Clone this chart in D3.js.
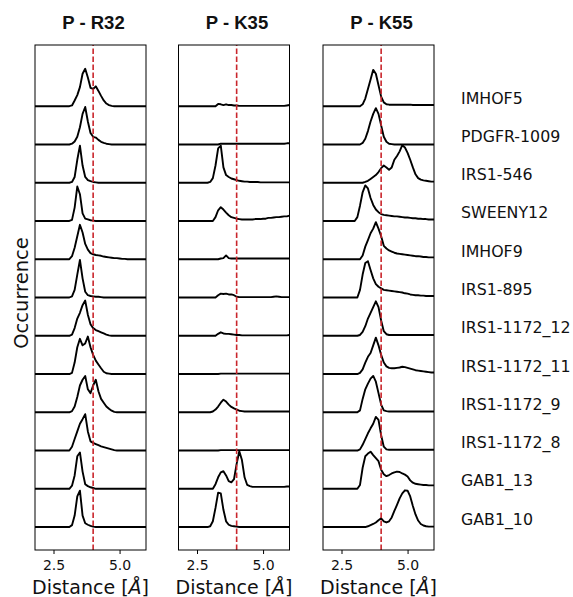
<!DOCTYPE html>
<html>
<head>
<meta charset="utf-8">
<title>Distance distributions</title>
<script src="https://d3js.org/d3.v7.min.js"></script>
<style>
    body { margin: 0; background: #fff; }
    text { font-family: "DejaVu Sans", sans-serif; fill: #111; }
</style>
</head>
<body>
<svg width="573" height="597"></svg>
<script>
    // panel titles and the 12 systems (top to bottom)
    var titles = ["P - R32", "P - K35", "P - K55"];
    var systems = ["IMHOF5", "PDGFR-1009", "IRS1-546", "SWEENY12", "IMHOF9", "IRS1-895",
                   "IRS1-1172_12", "IRS1-1172_11", "IRS1-1172_9", "IRS1-1172_8", "GAB1_13", "GAB1_10"];

    // distance grid (Å) shared by every curve
    var distance = [1.8, 2.9, 3.0, 3.1,
                    3.2, 3.3, 3.4, 3.5, 3.6, 3.7, 3.8, 3.9, 4.0,
                    4.1, 4.2, 4.3, 4.4, 4.5, 4.6, 4.7, 4.8, 4.9, 5.0,
                    5.1, 5.2, 5.3, 5.4, 5.5, 5.6, 5.7, 5.8, 5.9, 6.0];

    // occurrence, 1 = one row of height
    var r32 = [
        [0,0,0,0, .02,.15,.29,.5,.85,.98,.75,.48,.45, .52,.4,.27,.15,.07,.03,.01,0,0,0, 0,0,0,0,0,0,0,0,0,0],
        [0,0,0,0, .02,.08,.2,.45,.8,.98,.6,.3,.2, .18,.12,.07,.04,.02,.01,0,0,0,0, 0,0,0,0,0,0,0,0,0,0],
        [0,0,0,0, .02,.15,.6,.97,.45,.15,.07,.04,.02, .01,0,0,0,0,0,0,0,0,0, 0,0,0,0,0,0,0,0,0,0],
        [0,0,0,0, .03,.35,.9,.7,.2,.06,.04,.02,.01, 0,0,0,0,0,0,0,0,0,0, 0,0,0,0,0,0,0,0,0,0],
        [0,0,0,0, .08,.3,.6,.9,.7,.4,.25,.16,.13, .11,.1,.09,.07,.06,.05,.04,.03,.03,.02, .01,.01,0,0,0,0,0,0,0,0],
        [0,0,0,0, .03,.2,.6,.98,.5,.15,.06,.04,.03, .02,.02,.01,0,0,0,0,0,0,0, 0,0,0,0,0,0,0,0,0,0],
        [0,0,0,0, .03,.2,.45,.6,.8,.92,.55,.3,.2, .15,.12,.09,.06,.03,.01,0,0,0,0, 0,0,0,0,0,0,0,0,0,0],
        [0,0,0,0, .03,.3,.7,.92,.75,.8,.98,.7,.5, .35,.25,.15,.06,.02,.01,0,0,0,0, 0,0,0,0,0,0,0,0,0,0],
        [0,0,0,0, .03,.15,.4,.7,.85,.95,.6,.5,.7, .85,.55,.35,.25,.15,.09,.04,.01,0,0, 0,0,0,0,0,0,0,0,0,0],
        [0,0,0,0, .1,.3,.5,.7,.82,.95,.5,.24,.2, .17,.14,.11,.09,.07,.05,.03,.01,0,0, 0,0,0,0,0,0,0,0,0,0],
        [0,0,0,0, .08,.35,.85,.95,.45,.12,.07,.04,.02, 0,0,0,0,0,0,0,0,0,0, 0,0,0,0,0,0,0,0,0,0],
        [0,0,0,0, .05,.3,.8,.95,.3,.1,.06,.03,.01, 0,0,0,0,0,0,0,0,0,0, 0,0,0,0,0,0,0,0,0,0]
    ];
    var k35 = [
        [0,0,0,0, 0,.06,.05,.03,.05,.03,.03,.02,.02, .01,.01,.01,.01,.01,.01,.01,.01,.01,.01, .01,.01,.01,.01,.01,.01,.01,.01,.02,.03],
        [0,0,0,0, 0,0,.02,.02,.02,.02,.02,.02,.02, .02,.02,.02,.02,.02,.02,.02,.02,.02,.02, .02,.02,.02,.02,.02,.02,.02,.02,.03,.03],
        [0,0,.02,.12, .45,.9,.97,.4,.2,.15,.11,.09,.07, .05,.04,.03,.03,.02,.02,.02,.02,.01,.01, .01,.01,.01,.01,.01,.01,.01,.01,.01,.01],
        [0,0,0,0, .1,.28,.36,.3,.22,.15,.1,.08,.06, .05,.04,.04,.04,.04,.04,.05,.05,.05,.06, .06,.08,.08,.09,.1,.1,.11,.12,.12,.14],
        [0,0,0,0, 0,0,.02,.03,.1,.03,.02,.02,.02, .02,.02,.02,.02,.02,.02,.02,.02,.02,.02, .02,.02,.02,.02,.02,.02,.02,.02,.02,.02],
        [0,0,0,0, 0,.06,.1,.09,.1,.08,.08,.06,.02, .01,.01,.01,.01,.01,.01,.01,.01,.01,.01, .01,.01,.01,.02,.03,.02,.01,.01,.01,.01],
        [0,0,0,0, 0,.05,.09,.06,.05,.05,.04,.03,.02, .02,.01,.01,.01,.01,.01,.01,.01,.01,.01, .01,.01,.01,.01,.01,.01,.01,.01,.01,.02],
        [0,0,0,0, 0,0,.01,.01,.01,.01,.01,.01,.01, .01,.01,.01,.01,.01,.01,.01,.01,.01,.01, .01,.01,.01,.01,.01,.01,.01,.01,.01,.01],
        [0,0,0,.02, .07,.15,.25,.33,.28,.2,.14,.1,.07, .04,.03,.02,.02,.02,.02,.02,.02,.02,.02, .02,.02,.02,.02,.02,.02,.02,.02,.02,.02],
        [0,0,0,0, 0,0,.01,.01,.01,.01,.01,.01,.01, .01,.01,.01,.01,.01,.01,.01,.01,.01,.01, .01,.01,.01,.01,.01,.01,.01,.01,.01,.01],
        [0,0,0,0, .12,.3,.43,.46,.35,.2,.17,.25,.65, .98,.75,.3,.1,.07,.05,.05,.05,.05,.05, .05,.05,.05,.05,.05,.05,.05,.05,.06,.06],
        [0,0,.02,.15, .5,.9,.88,.45,.15,.06,.03,.02,.01, 0,0,0,0,0,0,0,0,0,0, 0,0,0,0,0,0,0,0,0,0]
    ];
    var k55 = [
        [0,0,0,0, 0,.05,.2,.45,.7,.95,.85,.55,.25, .1,.05,.04,.04,.04,.04,.04,.04,.04,.04, .04,.03,.03,.03,.03,.03,.03,.03,.03,.03],
        [0,0,0,0, 0,.04,.15,.35,.6,.8,.95,.8,.5, .2,.07,.02,.01,0,0,0,0,0,0, 0,0,0,0,0,0,0,0,0,0],
        [0,0,0,0, 0,0,.02,.05,.1,.15,.2,.28,.38, .45,.4,.34,.4,.6,.7,.82,.98,.92,.78, .6,.4,.22,.12,.08,.06,.05,.04,.03,.03],
        [0,0,0,.1, .4,.75,.93,.85,.6,.42,.3,.23,.18, .16,.15,.14,.13,.12,.12,.11,.1,.09,.09, .08,.07,.07,.06,.06,.05,.05,.04,.04,.04],
        [0,0,0,0, 0,.1,.33,.5,.68,.8,.97,.8,.6, .35,.28,.23,.2,.17,.15,.14,.13,.12,.11, .1,.09,.08,.08,.07,.06,.06,.05,.05,.05],
        [0,0,0,0, .2,.6,.9,.95,.72,.5,.35,.28,.24, .2,.19,.18,.17,.16,.15,.14,.13,.11,.1, .08,.07,.06,.06,.05,.05,.04,.04,.04,.04],
        [0,0,0,0, .02,.1,.25,.45,.6,.75,.9,.75,.4, .12,.04,.02,.02,.02,.02,.02,.02,.02,.02, .02,.02,.02,.02,.02,.02,.02,.02,.02,.02],
        [0,0,0,0, .03,.12,.3,.45,.55,.75,.95,.75,.5, .3,.2,.16,.15,.15,.16,.17,.19,.18,.16, .14,.12,.1,.09,.08,.07,.06,.05,.04,.04],
        [0,0,0,0, .05,.35,.6,.75,.88,.95,.8,.5,.2, .05,.03,.02,.02,.02,.02,.02,.02,.02,.02, .02,.02,.02,.02,.02,.02,.02,.02,.02,.02],
        [0,0,0,0, .03,.15,.3,.45,.58,.7,.88,.8,.4, .1,.03,.02,.02,.02,.02,.02,.02,.02,.02, .02,.02,.02,.02,.02,.02,.02,.02,.02,.02],
        [0,0,0,0, .1,.55,.85,.92,.97,.88,.8,.72,.5, .38,.33,.36,.4,.43,.45,.44,.4,.37,.32, .22,.16,.13,.12,.11,.1,.1,.09,.09,.09],
        [0,0,0,0, 0,0,0,.02,.05,.08,.12,.18,.23, .15,.12,.15,.25,.42,.58,.75,.88,.96,.95, .8,.55,.33,.17,.08,.04,.02,.01,.01,.01]
    ];
    var panels = [r32, k35, k55];

    var xTicks = [2.5, 5.0];
    var cutoff = 4.0;

    var svg = d3.select("svg"),
        margin = {top: 45, bottom: 550},
        panelLeft = [35, 178.5, 323],
        panelWidth = 111;

    var x = d3.scaleLinear().domain([1.8, 6.0]).range([0, panelWidth]);
    // row r sits at offset (11 - r); bottom row at 0
    var y = d3.scaleLinear().domain([-0.6, 12.6]).range([margin.bottom, margin.top]);

    var line = d3.line()
        .x(function(d) { return x(d[0]); })
        .y(function(d) { return y(d[1]); });

    panels.forEach(function(rows, p) {
        var g = svg.append("g")
            .attr("transform", "translate(" + panelLeft[p] + ",0)");

        // curves
        g.selectAll(".curve")
            .data(rows)
            .enter().append("path")
            .attr("class", "curve")
            .attr("fill", "none")
            .attr("stroke", "#000")
            .attr("stroke-width", 1.9)
            .attr("stroke-linejoin", "round")
            .attr("d", function(vals, r) {
                var off = systems.length - 1 - r;
                return line(vals.map(function(v, i) { return [distance[i], off + v]; }));
            });

        // cutoff line
        g.append("line")
            .attr("x1", x(cutoff)).attr("x2", x(cutoff))
            .attr("y1", margin.bottom).attr("y2", margin.top)
            .attr("stroke", "#c9262c")
            .attr("stroke-width", 1.6)
            .attr("stroke-dasharray", "5.5,2.5");

        // frame
        g.append("rect")
            .attr("x", 0).attr("y", margin.top)
            .attr("width", panelWidth).attr("height", margin.bottom - margin.top)
            .attr("fill", "none")
            .attr("stroke", "#000")
            .attr("stroke-width", 1);

        // x axis
        var ax = g.append("g")
            .attr("transform", "translate(0," + margin.bottom + ")")
            .call(d3.axisBottom(x).tickValues(xTicks).tickFormat(d3.format(".1f"))
                .tickSize(4).tickPadding(6).tickSizeOuter(0));
        ax.select(".domain").remove();
        ax.selectAll("text")
            .style("font-family", "DejaVu Sans")
            .style("font-size", "14px")
            .attr("fill", "#111");

        // title
        g.append("text")
            .attr("x", panelWidth / 2 + 3)
            .attr("y", 29)
            .attr("text-anchor", "middle")
            .style("font-family", "Liberation Sans, Arial, sans-serif")
            .style("font-weight", "bold")
            .style("font-size", "18.5px")
            .text(titles[p]);

        // axis label
        var lab = g.append("text")
            .attr("x", panelWidth / 2)
            .attr("y", 594)
            .attr("text-anchor", "middle")
            .style("font-size", "19px");
        lab.append("tspan").text("Distance [");
        lab.append("tspan").style("font-style", "italic").text("Å");
        lab.append("tspan").text("]");
    });

    // system names on the right
    svg.selectAll(".sys")
        .data(systems)
        .enter().append("text")
        .attr("class", "sys")
        .attr("x", 461)
        .attr("y", function(d, r) { return y(systems.length - 1 - r) - 2.5; })
        .style("font-size", "15.8px")
        .text(function(d) { return d; });

    // y label
    svg.append("text")
        .attr("transform", "translate(28,293) rotate(-90)")
        .attr("text-anchor", "middle")
        .style("font-size", "19.5px")
        .text("Occurrence");
</script>
</body>
</html>
